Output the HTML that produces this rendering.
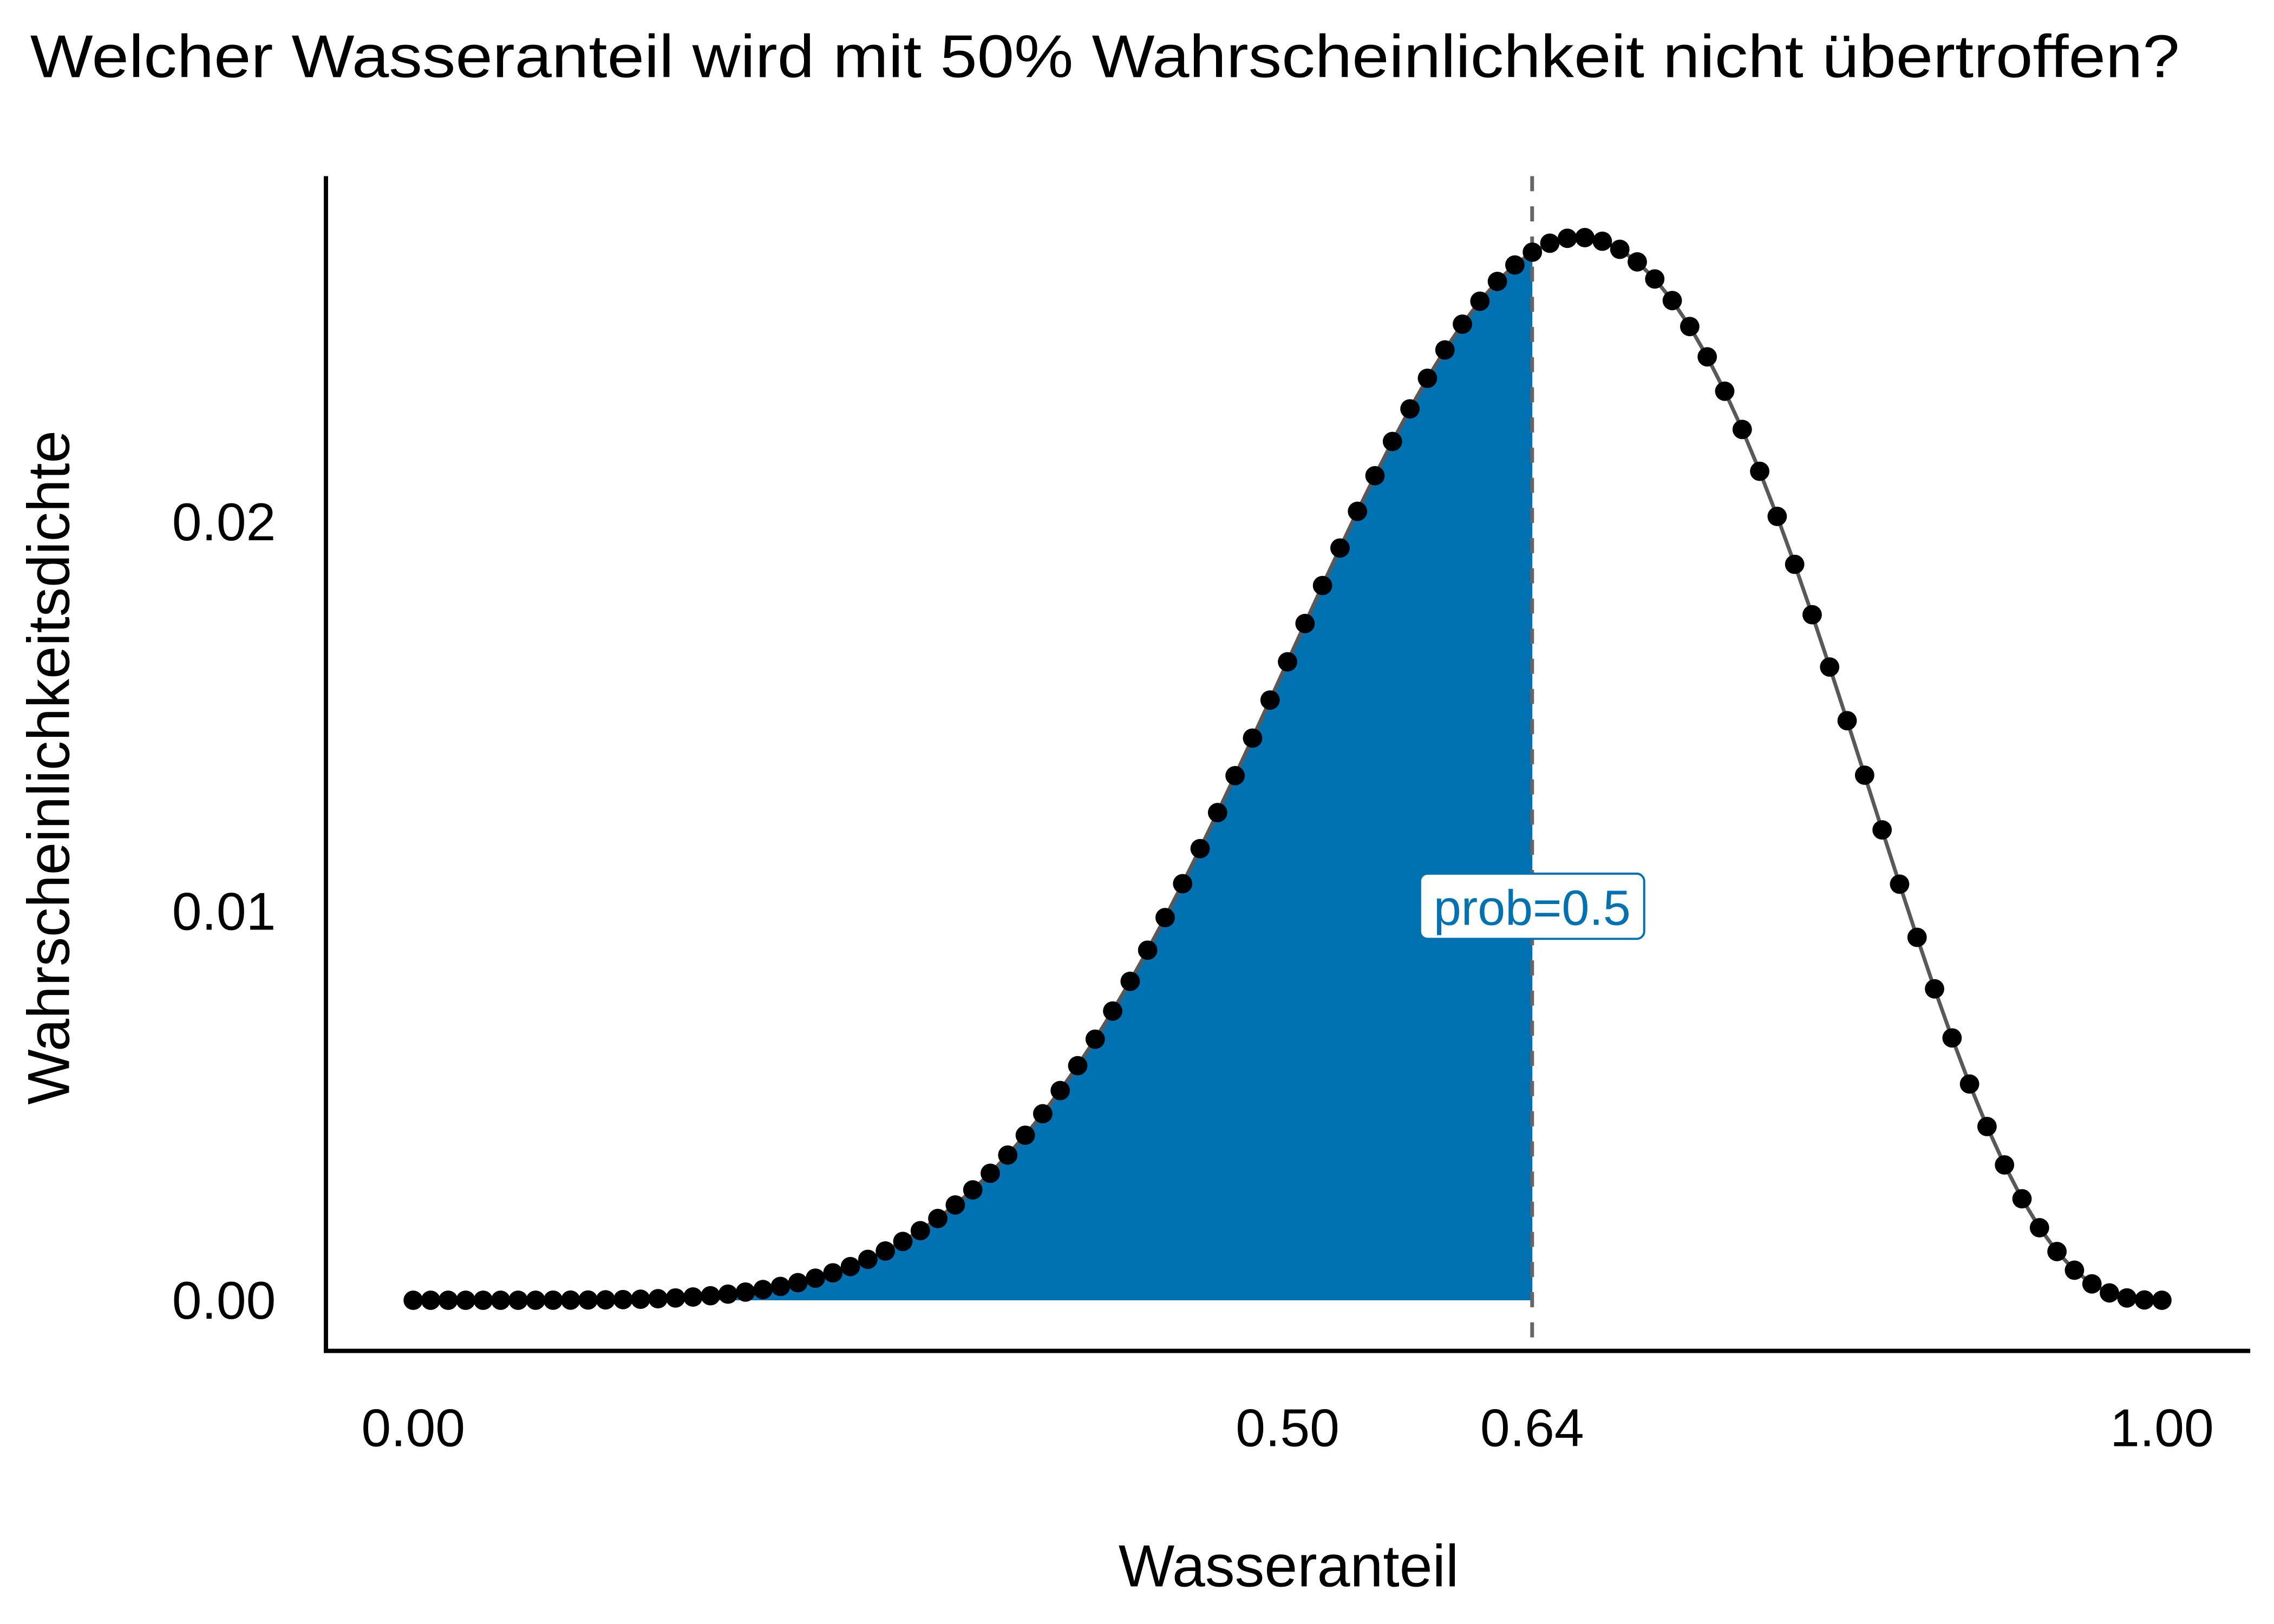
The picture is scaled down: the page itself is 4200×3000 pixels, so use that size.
<!DOCTYPE html>
<html><head><meta charset="utf-8"><style>
html,body{margin:0;padding:0;background:#fff;}
svg{display:block;font-family:"Liberation Sans",sans-serif;}
</style></head><body>
<svg id="s" xmlns="http://www.w3.org/2000/svg" width="4200" height="3000" viewBox="0 0 4200 3000">
<rect width="4200" height="3000" fill="#fff"/>
<g transform="translate(2,5) scale(0.995)">
<text x="54" y="138" font-size="112" textLength="3990" lengthAdjust="spacingAndGlyphs">Welcher Wasseranteil wird mit 50% Wahrscheinlichkeit nicht übertroffen?</text>
<g id="area"></g>
<line x1="2842" y1="322" x2="2842" y2="2503" stroke="#666" stroke-width="7" stroke-dasharray="28,28"/>
<g id="curve"></g>
<g id="pts"></g>
<rect x="2634" y="1617" width="416" height="121" rx="14" fill="#fff" stroke="#0072B2" stroke-width="4"/>
<text x="2842" y="1712" font-size="92" fill="#0072B2" text-anchor="middle">prob=0.5</text>
<line x1="603" y1="322" x2="603" y2="2507" stroke="#000" stroke-width="8"/>
<line x1="599" y1="2503" x2="4175" y2="2503" stroke="#000" stroke-width="8"/>
<g font-size="99" text-anchor="end">
<text x="510" y="2443">0.00</text>
<text x="510" y="1721">0.01</text>
<text x="510" y="998">0.02</text>
</g>
<g font-size="99" text-anchor="middle">
<text x="765" y="2680">0.00</text>
<text x="2388" y="2680">0.50</text>
<text x="2842" y="2680">0.64</text>
<text x="4011" y="2680">1.00</text>
</g>
<text x="2390" y="2940" font-size="110" text-anchor="middle">Wasseranteil</text>
<text transform="translate(126,1420) rotate(-90)" font-size="110" text-anchor="middle" textLength="1252" lengthAdjust="spacingAndGlyphs">Wahrscheinlichkeitsdichte</text>
</g>
</svg>
<script>
(function(){
var NS="http://www.w3.org/2000/svg";
var X=function(p){return 765+p*3246;};
var Y=function(v){return 2409-v*72250;};
var d=[],s=0,i;
for(i=0;i<=100;i++){var p=i/100;var v=Math.pow(p,6)*Math.pow(1-p,3);d.push(v);s+=v;}
for(i=0;i<=100;i++)d[i]/=s;
var pts=[];for(i=0;i<=100;i++)pts.push(X(i/100).toFixed(1)+","+Y(d[i]).toFixed(1));
var area="M"+X(0)+","+Y(0);
for(i=0;i<=64;i++)area+=" L"+pts[i];
area+=" L"+X(0.64)+","+Y(0)+" Z";
var a=document.createElementNS(NS,"path");a.setAttribute("d",area);a.setAttribute("fill","#0072B2");
document.getElementById("area").appendChild(a);
var l=document.createElementNS(NS,"polyline");l.setAttribute("points",pts.join(" "));
l.setAttribute("fill","none");l.setAttribute("stroke","#595959");l.setAttribute("stroke-width","7");
document.getElementById("curve").appendChild(l);
var g=document.getElementById("pts");
for(i=0;i<=100;i++){var c=document.createElementNS(NS,"circle");
c.setAttribute("cx",X(i/100));c.setAttribute("cy",Y(d[i]));c.setAttribute("r","18");c.setAttribute("fill","#000");g.appendChild(c);}
})();
</script>
</body></html>
